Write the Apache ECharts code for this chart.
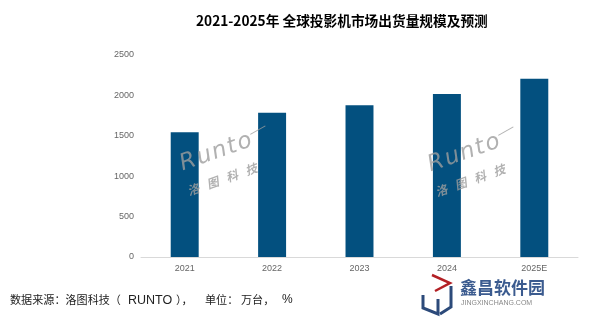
<!DOCTYPE html>
<html><head><meta charset="utf-8">
<script src="https://cdn.jsdelivr.net/npm/echarts@6/dist/echarts.min.js"></script>
<style>html,body{margin:0;padding:0;background:#fff}#c{width:594px;height:319px}</style>
</head><body><div id="c"></div>
<script>
const categories = ['2021','2022','2023','2024','2025E'];
const shipments = [1545, 1786, 1877, 2017, 2207];
const yTicks = [0, 500, 1000, 1500, 2000, 2500];

const wmFill = 'rgba(158,158,158,0.8)';
function watermark(x, y) {
  const letters = [['R',0],['u',18],['n',34],['t',50],['o',61]];
  const cn = ['洛','图','科','技'];
  const children = [];
  letters.forEach(([ch, lx]) => children.push({ type: 'text', x: lx, y: 4, z: 100, style: {
    text: ch, fontSize: 23, fontStyle: 'italic', fill: wmFill, verticalAlign: 'bottom', fontFamily: 'DejaVu Sans' } }));
  children.push({ type: 'line', z: 100, shape: { x1: 76, y1: -13, x2: 93, y2: -16 }, style: { stroke: wmFill, lineWidth: 1 } });
  cn.forEach((ch, i) => children.push({ type: 'text', x: -2 + i * 20.4, y: 20, z: 100, style: {
    text: ch, fontSize: 12, fontWeight: 'bold', fontStyle: 'italic', fill: wmFill, verticalAlign: 'middle', fontFamily: 'Noto Sans CJK SC' } }));
  return { type: 'group', x: x, y: y, rotation: 0.34, z: 100, children: children };
}

const srcFont = 'Noto Sans CJK SC';
const chart = echarts.init(document.getElementById('c'));
chart.setOption({
  animation: false,
  title: {
    text: '2021-2025年 全球投影机市场出货量规模及预测',
    left: 191, top: 9,
    textStyle: { fontSize: 13.7, fontWeight: 'bold', color: '#000', fontFamily: 'Noto Sans CJK SC' }
  },
  grid: { left: 141, right: 16, top: 55, bottom: 62 },
  xAxis: {
    type: 'category', data: categories,
    axisLine: { lineStyle: { color: '#d9d9d9' } },
    axisTick: { show: false },
    axisLabel: { color: '#666', fontSize: 9, margin: 7, fontFamily: 'Liberation Sans' }
  },
  yAxis: {
    type: 'value', min: yTicks[0], max: yTicks[yTicks.length-1], interval: 500,
    splitLine: { show: false },
    axisLine: { show: false }, axisTick: { show: false },
    axisLabel: { color: '#666', fontSize: 9, margin: 7, fontFamily: 'Liberation Sans', formatter: v => String(v) }
  },
  series: [{
    type: 'bar', data: shipments, barWidth: '32%',
    itemStyle: { color: '#03507f' }
  }],
  graphic: [
    { type: 'text', left: 10, top: 294, style: { text: '数据来源：洛图科技（', fontSize: 11.1, fill: '#222', fontFamily: srcFont } },
    { type: 'text', left: 128, top: 294, style: { text: 'RUNTO', fontSize: 12.5, fill: '#222', fontFamily: 'Liberation Sans' } },
    { type: 'text', left: 176, top: 294, style: { text: '），', fontSize: 11.1, fill: '#222', fontFamily: srcFont } },
    { type: 'text', left: 205, top: 294, style: { text: '单位：', fontSize: 11.1, fill: '#222', fontFamily: srcFont } },
    { type: 'text', left: 241, top: 294, style: { text: '万台，', fontSize: 11.1, fill: '#222', fontFamily: srcFont } },
    { type: 'text', left: 282, top: 294, style: { text: '%', fontSize: 12, fill: '#222', fontFamily: 'Liberation Sans' } },
    watermark(183, 172),
    watermark(431, 173),
    // logo
    { type: 'polyline', shape: { points: [[432,275],[450,283],[435,291]] }, style: { stroke: '#b32025', lineWidth: 2.5, fill: null } },
    { type: 'polyline', shape: { points: [[423,295],[423,308],[438,314],[438,299]] }, style: { stroke: '#2c4a7a', lineWidth: 3, fill: null } },
    { type: 'polyline', shape: { points: [[451,286],[451,307],[440,314]] }, style: { stroke: '#2c4a7a', lineWidth: 3, fill: null } },
    { type: 'text', left: 460, top: 279, style: { text: '鑫昌软件园', fontSize: 17, fontWeight: 'bold', fill: '#3b5b8f', fontFamily: 'Noto Sans CJK SC' } },
    { type: 'text', left: 461, top: 300, style: { text: 'JINGXINCHANG.COM', fontSize: 7, fill: '#888', fontFamily: 'Liberation Sans' } }
  ]
});
</script></body></html>
